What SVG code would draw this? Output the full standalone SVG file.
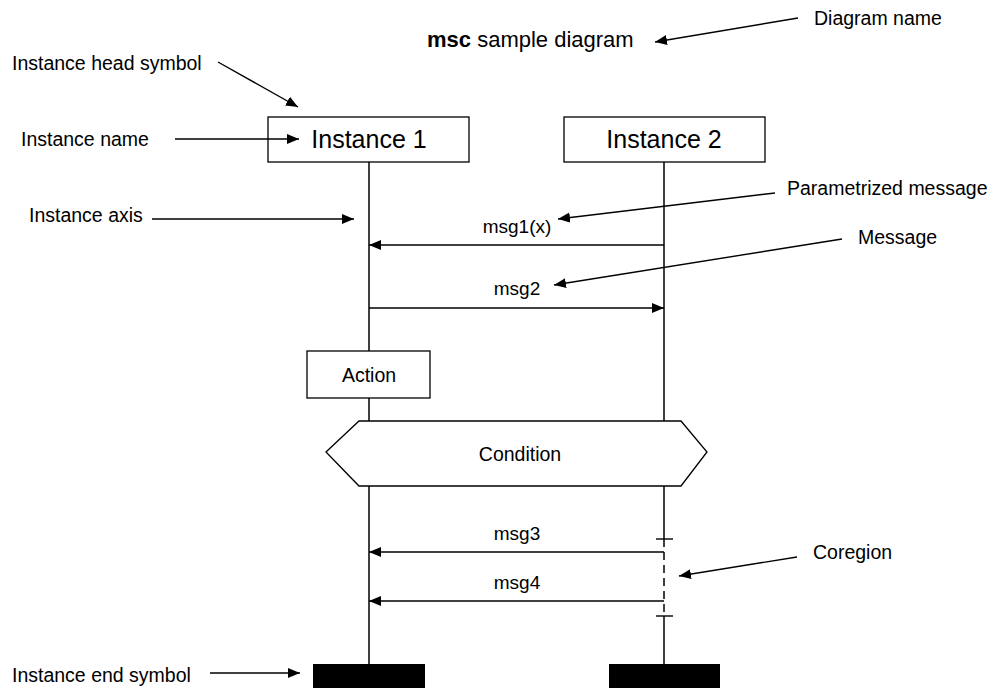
<svg xmlns="http://www.w3.org/2000/svg" width="992" height="688" viewBox="0 0 992 688">
  <defs>
    <marker id="arrow" markerUnits="userSpaceOnUse" markerWidth="13" markerHeight="11" refX="12" refY="5" orient="auto">
      <path d="M0,0 L12,5 L0,10 Z" fill="#000"/>
    </marker>
    <style>
      text { font-family: "Liberation Sans", Arial, sans-serif; fill: #000; }
      .lbl { font-size: 19.5px; }
      .msg { font-size: 19px; text-anchor: middle; }
      .inst { font-size: 25px; text-anchor: middle; }
      .box { fill: #fff; stroke: #000; stroke-width: 1.3; }
      .axis { stroke: #000; stroke-width: 1.5; fill: none; }
      .line { stroke: #000; stroke-width: 1.4; fill: none; }
      .end { fill: #000; }
    </style>
  </defs>
  <rect width="992" height="688" fill="#fff"/>

  <!-- title -->
  <g id="title">
    <text x="427" y="47" style="font-size:22px"><tspan font-weight="bold">msc</tspan> sample diagram</text>
  </g>

  <!-- lifelines -->
  <g id="axes">
    <line class="axis" x1="369" y1="162" x2="369" y2="664"/>
    <line class="axis" x1="664" y1="162" x2="664" y2="539"/>
    <line class="axis" x1="664" y1="539" x2="664" y2="616" stroke-dasharray="8 5"/>
    <line class="axis" x1="664" y1="616" x2="664" y2="664"/>
  </g>

  <g id="instance1">
    <rect class="box" x="268" y="117" width="201" height="45"/>
    <text class="inst" x="369" y="148">Instance 1</text>
  </g>
  <g id="instance2">
    <rect class="box" x="564" y="117" width="201" height="45"/>
    <text class="inst" x="664" y="148">Instance 2</text>
  </g>

  <g id="action">
    <rect class="box" x="307" y="351" width="123" height="47"/>
    <text class="msg" x="369" y="382" style="font-size:19.5px">Action</text>
  </g>

  <g id="condition">
    <polygon class="box" points="326,452 359,421 681,421 707,452 681,486 359,486"/>
    <text class="msg" x="520" y="461" style="font-size:19.5px">Condition</text>
  </g>

  <g id="coregion">
    <line class="line" x1="656" y1="539" x2="673" y2="539"/>
    <line class="line" x1="656" y1="616" x2="673" y2="616"/>
  </g>

  <g id="end1">
    <rect class="end" x="313" y="664" width="112" height="24"/>
  </g>
  <g id="end2">
    <rect class="end" x="609" y="664" width="111" height="24"/>
  </g>

  <!-- messages and annotation pointers -->
  <g id="connectors">
    <line class="line" x1="664" y1="245" x2="369" y2="245" marker-end="url(#arrow)"/>
    <line class="line" x1="369" y1="308" x2="664" y2="308" marker-end="url(#arrow)"/>
    <line class="line" x1="664" y1="552" x2="369" y2="552" marker-end="url(#arrow)"/>
    <line class="line" x1="664" y1="601" x2="369" y2="601" marker-end="url(#arrow)"/>

    <line class="line" x1="218" y1="62" x2="298" y2="107" marker-end="url(#arrow)"/>
    <line class="line" x1="175" y1="139" x2="299" y2="139" marker-end="url(#arrow)"/>
    <line class="line" x1="152" y1="219" x2="354" y2="219" marker-end="url(#arrow)"/>
    <line class="line" x1="210" y1="673" x2="300" y2="673" marker-end="url(#arrow)"/>
    <line class="line" x1="798" y1="18" x2="655" y2="42" marker-end="url(#arrow)"/>
    <line class="line" x1="775" y1="193" x2="558" y2="219" marker-end="url(#arrow)"/>
    <line class="line" x1="842" y1="239" x2="554" y2="285" marker-end="url(#arrow)"/>
    <line class="line" x1="797" y1="557" x2="679" y2="576" marker-end="url(#arrow)"/>
  </g>

  <g id="message-labels">
    <text class="msg" x="517" y="233">msg1(x)</text>
    <text class="msg" x="517" y="295">msg2</text>
    <text class="msg" x="517" y="540">msg3</text>
    <text class="msg" x="517" y="589">msg4</text>
  </g>

  <g id="annotations">
    <text class="lbl" x="12" y="70">Instance head symbol</text>
    <text class="lbl" x="21" y="146">Instance name</text>
    <text class="lbl" x="29" y="222">Instance axis</text>
    <text class="lbl" x="12" y="682">Instance end symbol</text>
    <text class="lbl" x="814" y="25">Diagram name</text>
    <text class="lbl" x="787" y="195">Parametrized message</text>
    <text class="lbl" x="858" y="244">Message</text>
    <text class="lbl" x="813" y="559">Coregion</text>
  </g>
</svg>
